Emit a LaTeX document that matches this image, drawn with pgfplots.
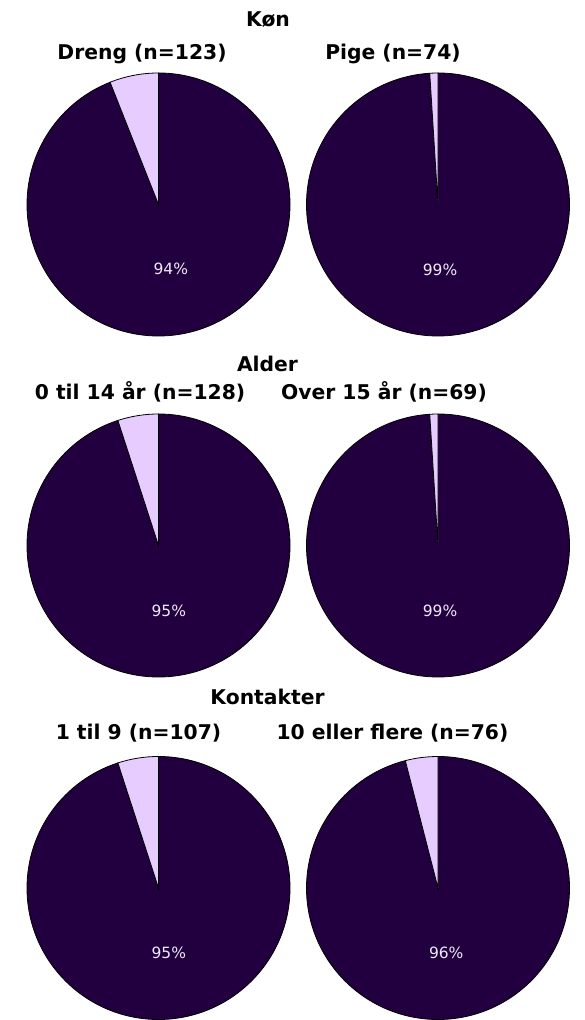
\documentclass[border=0pt]{standalone}
\usepackage{pgfplots}
\pgfplotsset{compat=1.18}
\usepackage{fontspec}
\setmainfont{DejaVu Sans}
\definecolor{piedark}{RGB}{34,0,64}
\definecolor{pielight}{RGB}{230,204,255}
\definecolor{pietext}{RGB}{238,232,246}
% #1 = x centre (pt), #2 = y centre (pt), #3 = share in percent (dark slice)
\newcommand{\pieaxis}[3]{%
\begin{axis}[at={(#1pt,#2pt)}, anchor=center, width=263pt, height=263pt,
  scale only axis, xmin=-1, xmax=1, ymin=-1, ymax=1, hide axis, clip=false]
  \filldraw[fill=piedark, draw=black, line width=0.8pt]
    (axis cs:0,0) -- (axis cs:0,1) arc[start angle=90, end angle={90-3.6*#3}, radius=131.5pt] -- cycle;
  \filldraw[fill=pielight, draw=black, line width=0.8pt]
    (axis cs:0,0) -- (axis cs:0,1) arc[start angle=90, end angle={90+3.6*(100-#3)}, radius=131.5pt] -- cycle;
  \node[text=pietext, font=\fontsize{15.5}{18}\selectfont]
    at (axis cs:{0.5*cos(90-1.8*#3)},{0.5*sin(90-1.8*#3)}) {#3\%};
\end{axis}}
\begin{document}
\begin{tikzpicture}[x=1pt,y=1pt]
\path[use as bounding box] (0,0) rectangle (584,1020);
\tikzset{ttl/.style={anchor=base, font=\bfseries\fontsize{20.3}{24}\selectfont}}
% Row 1: Køn
\node[ttl] at (268,993) {Køn};
\node[ttl] at (142,960) {Dreng (n=123)};
\node[ttl] at (393,960) {Pige (n=74)};
\pieaxis{158.5}{815.5}{94}
\pieaxis{438}{815.5}{99}
% Row 2: Alder
\node[ttl] at (267.5,648) {Alder};
\node[ttl] at (140,620) {0 til 14 år (n=128)};
\node[ttl] at (384,620) {Over 15 år (n=69)};
\pieaxis{158.5}{474.5}{95}
\pieaxis{438}{474.5}{99}
% Row 3: Kontakter
\node[ttl] at (267.5,315) {Kontakter};
\node[ttl] at (138.5,280) {1 til 9 (n=107)};
\node[ttl] at (392.5,280) {10 eller flere (n=76)};
\pieaxis{158.5}{132}{95}
\pieaxis{438}{132}{96}
\end{tikzpicture}
\end{document}
